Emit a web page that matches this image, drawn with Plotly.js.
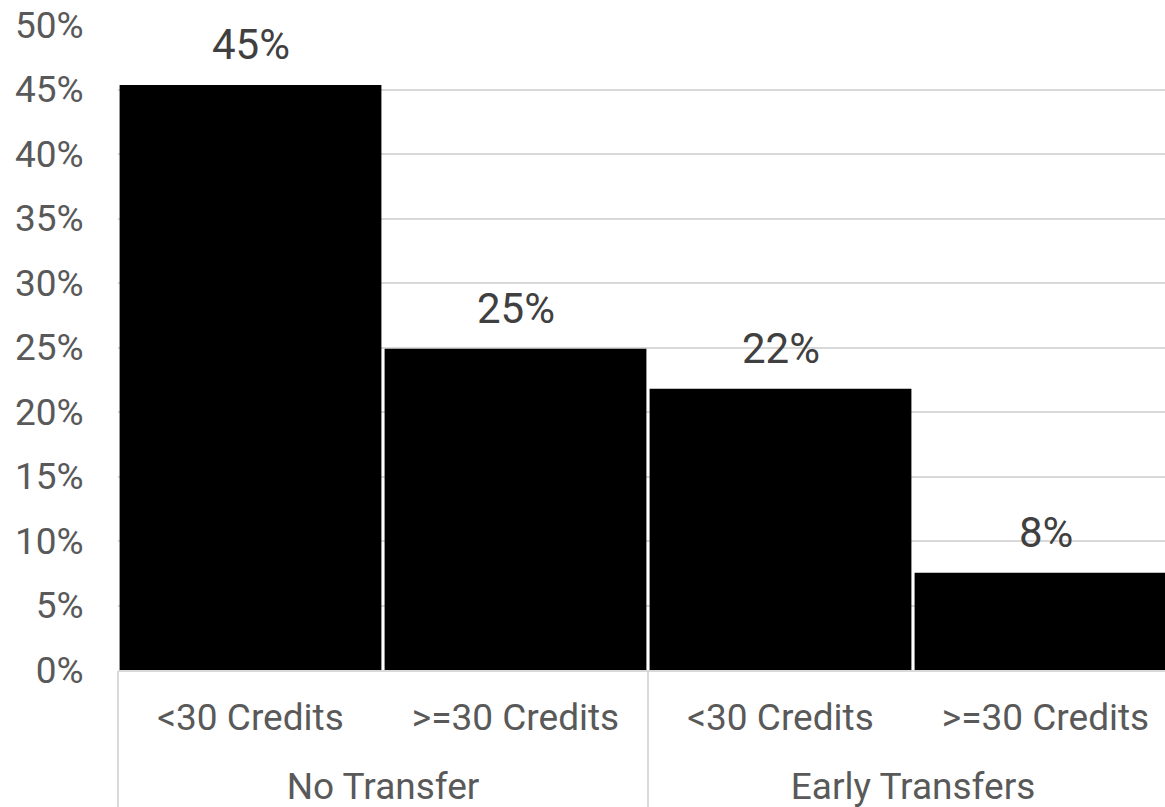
<!DOCTYPE html>
<html>
<head>
<meta charset="utf-8">
<script src="https://cdn.plot.ly/plotly-3.0.1.min.js"></script>
<style>html,body{margin:0;padding:0;background:#fff;overflow:hidden;}#chart{width:1178px;height:807px;}</style>
</head>
<body>
<div id="chart"></div>
<script>
var groupNames = ["No Transfer", "Early Transfers"];
var groups = ["No Transfer", "No Transfer", "Early Transfers", "Early Transfers"];
var credits = ["<30 Credits", ">=30 Credits", "<30 Credits", ">=30 Credits"];
var values = [0.4535, 0.249, 0.218, 0.0754];
var labels = ["45%", "25%", "22%", "8%"];
var yTicks = [0, 0.05, 0.10, 0.15, 0.20, 0.25, 0.30, 0.35, 0.40, 0.45, 0.50];

var FONT = "Roboto, 'Open Sans', sans-serif";
var GRID = "#d9d9d9";

// positions derived from the category arrays
var idx = credits.map(function (_, i) { return i; });
var groupCenters = groupNames.map(function (g) {
  var members = idx.filter(function (i) { return groups[i] === g; });
  return (members[0] + members[members.length - 1]) / 2;
});
var groupBounds = [-0.5];
groupNames.forEach(function (g) {
  var members = idx.filter(function (i) { return groups[i] === g; });
  groupBounds.push(members[members.length - 1] + 0.5);
});
var xRange = [-0.5, credits.length - 0.5];

var bars = {
  type: "bar",
  x: idx,
  y: values,
  marker: {color: "#000000"},
  hoverinfo: "skip"
};
var groupAnchor = {
  type: "scatter", mode: "markers",
  x: groupCenters, y: [0, 0],
  xaxis: "x2", yaxis: "y",
  marker: {opacity: 0}, hoverinfo: "skip", showlegend: false
};
var dividerAnchor = {
  type: "scatter", mode: "markers",
  x: groupBounds, y: groupBounds.map(function () { return 0; }),
  xaxis: "x3", yaxis: "y",
  marker: {opacity: 0}, hoverinfo: "skip", showlegend: false
};

var annotations = values.map(function (v, i) {
  return {
    x: i, xref: "x", y: v, yref: "y",
    text: labels[i], showarrow: false,
    yanchor: "middle", yshift: 40,
    font: {family: FONT, size: 42, color: "#404040"}
  };
});

var tickFont = {family: FONT, size: 37, color: "#595959"};

var layout = {
  width: 1178, height: 807,
  margin: {l: 118, r: 0, t: 25, b: 137},
  paper_bgcolor: "#ffffff", plot_bgcolor: "#ffffff",
  showlegend: false,
  bargap: 0.012,
  font: {family: FONT, color: "#595959"},
  xaxis: {
    range: xRange,
    tickvals: idx, ticktext: credits,
    showgrid: false, zeroline: false,
    showline: true, linecolor: GRID, linewidth: 2,
    ticks: "", ticklabelstandoff: 14,
    tickfont: tickFont,
    fixedrange: true
  },
  xaxis2: {
    overlaying: "x", anchor: "y", side: "bottom",
    range: xRange,
    tickvals: groupCenters, ticktext: groupNames,
    showgrid: false, zeroline: false, showline: false,
    ticks: "", ticklabelstandoff: 91,
    tickfont: tickFont,
    fixedrange: true
  },
  xaxis3: {
    overlaying: "x", anchor: "y", side: "bottom",
    range: xRange,
    tickvals: groupBounds,
    showticklabels: false,
    showgrid: false, zeroline: false, showline: false,
    ticks: "outside", ticklen: 140, tickwidth: 2, tickcolor: GRID,
    fixedrange: true
  },
  yaxis: {
    range: [0, 0.5],
    tickvals: yTicks,
    tickformat: ".0%",
    showgrid: true, gridcolor: GRID, gridwidth: 2,
    zeroline: false, showline: false,
    ticks: "outside", ticklen: 26, tickcolor: "rgba(0,0,0,0)",
    tickfont: tickFont,
    fixedrange: true
  },
  annotations: annotations
};

Plotly.newPlot("chart", [bars, groupAnchor, dividerAnchor], layout, {displayModeBar: false, staticPlot: true});
</script>
</body>
</html>
